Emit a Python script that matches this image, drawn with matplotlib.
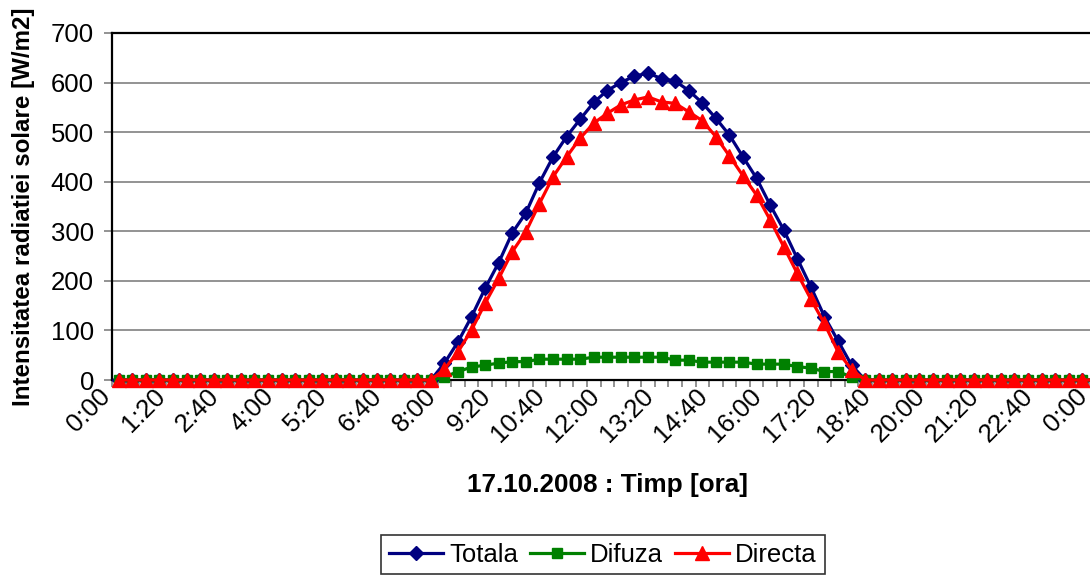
import matplotlib
matplotlib.use("Agg")
import matplotlib.pyplot as plt
from matplotlib.ticker import FixedLocator, NullFormatter
from matplotlib.transforms import ScaledTranslation

plt.rcParams['font.family'] = ['Liberation Sans', 'DejaVu Sans']

# 73 categories, every 20 minutes from 0:00 to 0:00 (next day)
categories = [f"{(m // 60) % 24}:{m % 60:02d}" for m in range(0, 24 * 60 + 1, 20)]

tick_labels = ['0:00', '1:20', '2:40', '4:00', '5:20', '6:40', '8:00', '9:20',
               '10:40', '12:00', '13:20', '14:40', '16:00', '17:20', '18:40',
               '20:00', '21:20', '22:40', '0:00']

totala = [0, 0, 0, 0, 0, 0, 0, 0, 0, 0, 0, 0, 0, 0, 0, 0, 0, 0, 0, 0, 0, 0, 0, 0,
          34, 77, 128, 185, 237, 297, 337, 398, 450, 491, 526, 560, 584, 600, 613, 619,
          608, 603, 584, 559, 528, 494, 450, 407, 353, 303, 245, 188, 128, 79, 30,
          0, 0, 0, 0, 0, 0, 0, 0, 0, 0, 0, 0, 0, 0, 0, 0, 0, 0]

difuza = [0, 0, 0, 0, 0, 0, 0, 0, 0, 0, 0, 0, 0, 0, 0, 0, 0, 0, 0, 0, 0, 0, 0, 0,
          6, 17, 26, 30, 34, 37, 37, 42, 42, 42, 42, 46, 46, 46, 46, 46,
          46, 40, 40, 36, 36, 36, 36, 32, 32, 32, 27, 24, 17, 17, 6,
          0, 0, 0, 0, 0, 0, 0, 0, 0, 0, 0, 0, 0, 0, 0, 0, 0, 0]

directa = [0, 0, 0, 0, 0, 0, 0, 0, 0, 0, 0, 0, 0, 0, 0, 0, 0, 0, 0, 0, 0, 0, 0, 0,
           22, 57, 101, 155, 205, 259, 299, 356, 410, 450, 488, 518, 538, 555, 565, 571,
           561, 558, 541, 523, 491, 452, 412, 373, 323, 269, 215, 163, 114, 57, 21,
           0, 0, 0, 0, 0, 0, 0, 0, 0, 0, 0, 0, 0, 0, 0, 0, 0, 0]

y_ticks = [0, 100, 200, 300, 400, 500, 600, 700]

FS = 18.5
W, H = 1090, 576
fig = plt.figure(figsize=(W / 100, H / 100), dpi=100)
# plot area: left 112px, top 33px, bottom 380px; category width ~13.57px (extends past right edge)
ax_left, ax_right = 112, 112 + 73 * 13.57
ax_top, ax_bottom = 33, 380
ax = fig.add_axes([ax_left / W, (H - ax_bottom) / H,
                   (ax_right - ax_left) / W, (ax_bottom - ax_top) / H])

x = list(range(len(categories)))
lw = 2.3
ax.plot(x, totala, color='#000080', lw=lw, marker='D', ms=6.8,
        mec='#000080', mfc='#000080', label='Totala', zorder=3, clip_on=False)
ax.plot(x, difuza, color='#008000', lw=lw, marker='s', ms=7.2,
        mec='#008000', mfc='#008000', label='Difuza', zorder=4, clip_on=False)
ax.plot(x, directa, color='#FF0000', lw=lw, marker='^', ms=9.5,
        mec='#FF0000', mfc='#FF0000', label='Directa', zorder=5, clip_on=False)

ax.set_xlim(-0.5, len(categories) - 0.5)
ax.set_ylim(0, 700)

ax.set_yticks(y_ticks)
ax.set_yticklabels([str(v) for v in y_ticks])
ax.yaxis.grid(True, color='#808080', lw=1.2)
ax.set_axisbelow(True)

label_pos = list(range(0, len(categories), 4))
ax.set_xticks(label_pos)
ax.set_xticklabels(tick_labels, rotation=45, ha='right', va='center',
                   rotation_mode='anchor')
ax.xaxis.set_minor_locator(FixedLocator([i - 0.5 for i in range(len(categories) + 1)]))
ax.xaxis.set_minor_formatter(NullFormatter())
ax.tick_params(axis='x', which='major', length=0, pad=9, labelsize=FS)
ax.tick_params(axis='x', which='minor', length=5, width=1.2, color='#808080')
ax.tick_params(axis='y', which='major', length=6, width=1.2, color='#808080',
               pad=7, labelsize=FS)
# shift rotated tick labels left (applied after tick_params, which resets transforms)
shift = ScaledTranslation(-12 / 100, 0, fig.dpi_scale_trans)
for t in ax.xaxis.get_majorticklabels():
    t.set_transform(t.get_transform() + shift)

for side in ['left', 'bottom', 'top']:
    ax.spines[side].set_color('black')
    ax.spines[side].set_linewidth(1.6)
ax.spines['right'].set_visible(False)

ax.set_ylabel('Intensitatea radiatiei solare [W/m2]', fontsize=17.4, fontweight='bold')
ax.yaxis.set_label_coords(-0.078, 0.5)
ax.set_xlabel('17.10.2008 : Timp [ora]', fontsize=18.8, fontweight='bold')
ax.xaxis.set_label_coords(0.5, -0.268)

leg = fig.legend(loc='upper center', bbox_to_anchor=(603 / W, 1 - 535 / H),
                 bbox_transform=fig.transFigure, ncol=3, fontsize=FS,
                 frameon=True, fancybox=False, edgecolor='black',
                 handlelength=2.1, handletextpad=0.25, columnspacing=0.45,
                 borderpad=0.3, borderaxespad=0)
leg.get_frame().set_linewidth(1.2)

fig.savefig('out.png', dpi=100)
